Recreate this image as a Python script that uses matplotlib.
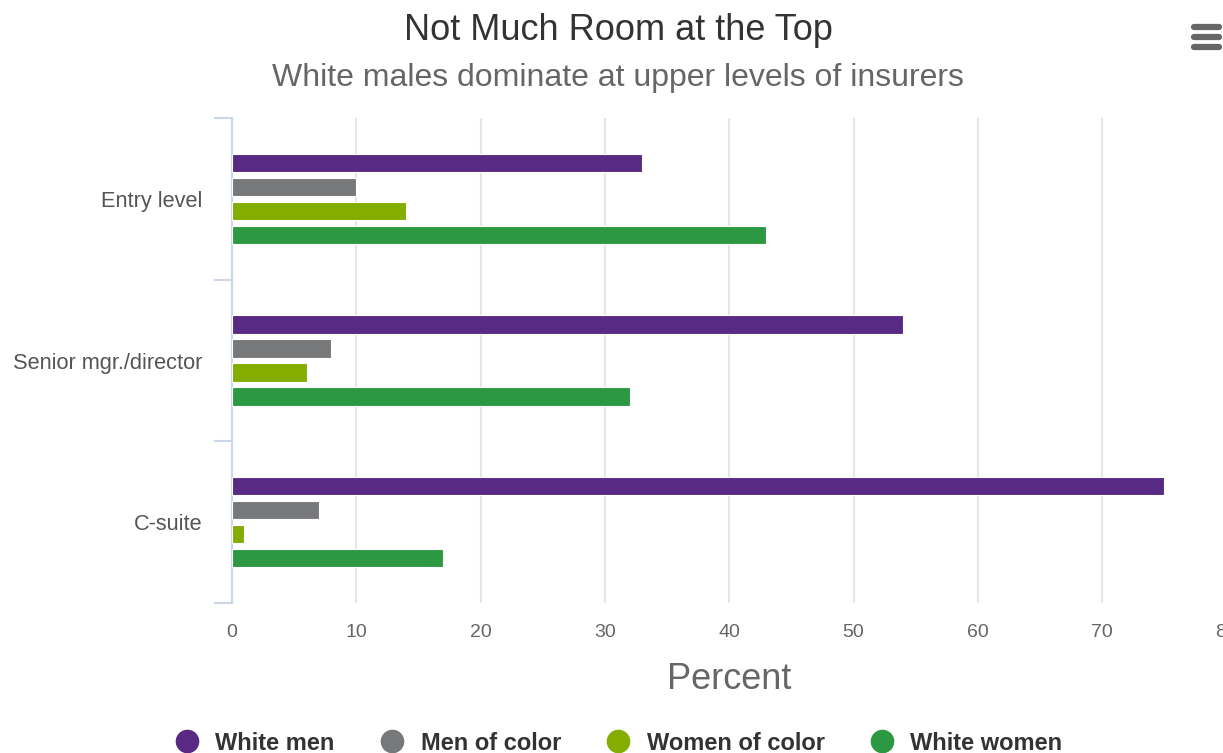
import matplotlib
matplotlib.use("Agg")
import matplotlib.pyplot as plt
from matplotlib.lines import Line2D
import numpy as np

plt.rcParams['font.family'] = ['Liberation Sans', 'DejaVu Sans']

categories = ["Entry level", "Senior mgr./director", "C-suite"]
series_names = ["White men", "Men of color", "Women of color", "White women"]
white_men = [33, 54, 75]
men_of_color = [10, 8, 7]
women_of_color = [14, 6, 1]
white_women = [43, 32, 17]
colors = ["#582a84", "#76787a", "#83ad00", "#2c9942"]
x_ticks = [0, 10, 20, 30, 40, 50, 60, 70, 80]

W, H = 1223, 753
fig = plt.figure(figsize=(W / 100, H / 100), dpi=100)
ax = fig.add_axes([232 / W, (H - 603) / H, 994.4 / W, 485 / H])

series = [white_men, men_of_color, women_of_color, white_women]
y = np.arange(len(categories))
pitch = 0.1484
bh = 0.112
for i, (vals, c, name) in enumerate(zip(series, colors, series_names)):
    ax.barh(y + (i - 1.5) * pitch, vals, height=bh, color=c, edgecolor="white",
            linewidth=0.8, label=name, zorder=3)

ax.set_ylim(2.5, -0.5)
ax.set_xlim(0, 80)
ax.set_xticks(x_ticks)
ax.set_xticklabels([str(t) for t in x_ticks])
ax.set_yticks(y)
ax.set_yticklabels(categories)
ax.set_yticks([-0.5, 0.5, 1.5, 2.5], minor=True)
ax.tick_params(axis="y", which="major", length=0, pad=21, labelsize=15.7, labelcolor="#555555")
ax.tick_params(axis="y", which="minor", length=13, width=1.5, color="#ccd6eb")
ax.tick_params(axis="x", length=0, pad=15, labelsize=14, labelcolor="#666666")
for s in ["top", "right", "bottom"]:
    ax.spines[s].set_visible(False)
ax.spines["left"].set_color("#ccd6eb")
ax.spines["left"].set_linewidth(1.5)
ax.grid(axis="x", color="#e6e6e6", linewidth=1.5, zorder=0)
ax.set_axisbelow(True)
ax.set_xlabel("Percent", fontsize=26, color="#666666", labelpad=15)

fig.text(618 / W, 1 - 31 / H, "Not Much Room at the Top", ha="center", va="center",
         fontsize=26, color="#333333")
fig.text(618 / W, 1 - 78 / H, "White males dominate at upper levels of insurers", ha="center",
         va="center", fontsize=23, color="#666666")

# menu icon
for yy in [27, 37, 47]:
    fig.add_artist(Line2D([1194 / W, 1219 / W], [1 - yy / H, 1 - yy / H], color="#666666",
                          linewidth=4.5, solid_capstyle="round"))

handles = [Line2D([], [], marker="o", linestyle="none", markersize=16, markerfacecolor=c,
                  markeredgecolor=c) for c in colors]
leg = fig.legend(handles, series_names, loc="center", bbox_to_anchor=(613 / W, 1 - 743 / H),
                 ncol=4, frameon=False, handletextpad=0.2, columnspacing=1.43,
                 prop={"weight": "bold", "size": 17}, labelcolor="#333333")

fig.savefig("out.png", dpi=100)
